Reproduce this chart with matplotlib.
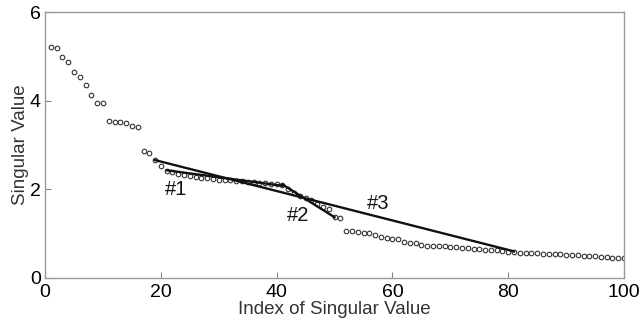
import matplotlib
matplotlib.use("Agg")
import matplotlib.pyplot as plt

plt.rcParams['font.family'] = ['Liberation Sans', 'DejaVu Sans']

index = list(range(1, 101))
singular_values = [
    5.21, 5.20, 4.98, 4.88, 4.64, 4.53, 4.35, 4.14, 3.95, 3.95,
    3.55, 3.53, 3.52, 3.50, 3.44, 3.41, 2.86, 2.82, 2.66, 2.52,
    2.42, 2.38, 2.35, 2.32, 2.30, 2.28, 2.26, 2.25, 2.24, 2.22,
    2.21, 2.20, 2.19, 2.18, 2.17, 2.16, 2.15, 2.14, 2.13, 2.12,
    2.10, 2.00, 1.92, 1.85, 1.80, 1.75, 1.68, 1.60, 1.55, 1.38,
    1.36, 1.07, 1.06, 1.03, 1.02, 1.01, 0.98, 0.93, 0.90, 0.88,
    0.87, 0.82, 0.80, 0.78, 0.74, 0.73, 0.72, 0.72, 0.71, 0.70,
    0.69, 0.68, 0.67, 0.66, 0.65, 0.64, 0.63, 0.62, 0.60, 0.59,
    0.58, 0.57, 0.57, 0.56, 0.56, 0.55, 0.55, 0.54, 0.53, 0.52,
    0.52, 0.51, 0.50, 0.50, 0.49, 0.48, 0.47, 0.46, 0.45, 0.44,
]

# Fitted segments (x0, x1), (y0, y1)
seg1_x = [21, 41]
seg1_y = [2.43, 2.08]
seg2_x = [41, 50]
seg2_y = [2.11, 1.37]
seg3_x = [19, 81]
seg3_y = [2.66, 0.60]

labels = ["#1", "#2", "#3"]
label_x = [22.7, 43.7, 57.5]
label_y = [1.99, 1.42, 1.69]

fig = plt.figure(figsize=(6.44, 3.27), dpi=100)
ax = fig.add_axes([0.07, 0.15, 0.899, 0.813])

ax.plot(index, singular_values, linestyle='none', marker='o', markersize=3.3,
        markerfacecolor='white', markeredgecolor='#333333', markeredgewidth=0.8, zorder=2)
for sx, sy in [(seg1_x, seg1_y), (seg2_x, seg2_y), (seg3_x, seg3_y)]:
    ax.plot(sx, sy, color='#111111', linewidth=1.7, zorder=3)

for t, x, y in zip(labels, label_x, label_y):
    ax.text(x, y, t, fontsize=14.5, ha='center', va='center', color='#111111')

ax.set_xlim(0, 100)
ax.set_ylim(0, 6)
ax.set_xticks([0, 20, 40, 60, 80, 100])
ax.set_yticks([0, 2, 4, 6])
ax.tick_params(direction='in', length=4, width=0.8, color='#888888',
               labelsize=14, top=False, right=False)
ax.tick_params(axis='x', pad=4)
ax.tick_params(axis='y', pad=3)
for s in ax.spines.values():
    s.set_color('#999999')
    s.set_linewidth(1.0)
ax.set_xlabel('Index of Singular Value', fontsize=13.5, labelpad=0.5, color='#333333')
ax.set_ylabel('Singular Value', fontsize=13.5, labelpad=1, color='#333333')

fig.savefig('out.png', dpi=100)
